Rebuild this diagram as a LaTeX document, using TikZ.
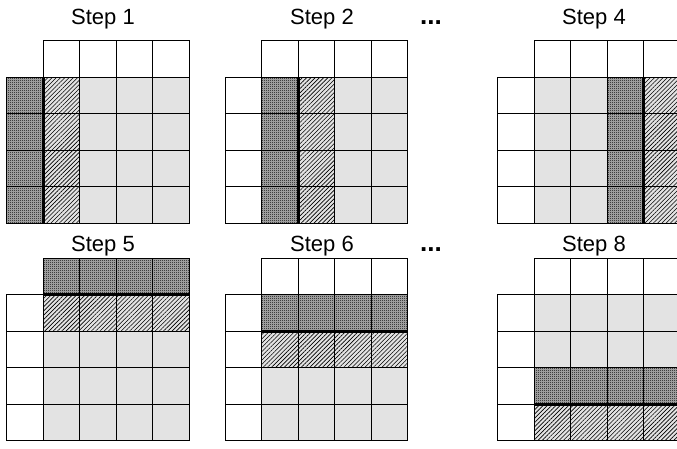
\documentclass[tikz,border=0pt]{standalone}
\usepackage{fontspec}
\setmainfont{Liberation Sans}
\usetikzlibrary{patterns,patterns.meta}
\definecolor{lgray}{HTML}{E3E3E3}
\definecolor{mgray}{HTML}{B4B4B4}
\pgfdeclarepatternformonly{finechecker}{\pgfpointorigin}{\pgfqpoint{2pt}{2pt}}{\pgfqpoint{2pt}{2pt}}{%
 \pgfpathrectangle{\pgfpointorigin}{\pgfqpoint{1pt}{1pt}}%
 \pgfpathrectangle{\pgfqpoint{1pt}{1pt}}{\pgfqpoint{1pt}{1pt}}%
 \pgfusepath{fill}}
\def\cs{36.5pt}
\tikzset{
  lightcell/.style={fill=lgray},
  darkcell/.style={preaction={fill=mgray}, pattern=finechecker, pattern color=black},
  hatchcell/.style={preaction={fill=lgray}, pattern={Lines[angle=45,distance=3pt,line width=0.6pt]}, pattern color=black},
  gridline/.style={draw=black, line width=0.9pt},
  splitline/.style={draw=black, line width=3pt},
  steptitle/.style={anchor=base, inner sep=0pt, font=\fontsize{22}{26}\selectfont},
  dotstext/.style={anchor=base, inner sep=0pt, font=\fontsize{26}{30}\selectfont\bfseries}
}
\newcommand\cellat[3]{\path[#3] ({#1*\cs},{-#2*\cs}) rectangle ++(\cs,-\cs);}
\newcommand\gridlines{%
  \foreach \i in {1,...,4}{\foreach \j in {0,...,4}{\draw[gridline] ({\i*\cs},{-\j*\cs}) rectangle ++(\cs,-\cs);}}%
  \foreach \j in {1,...,4}{\draw[gridline] (0,{-\j*\cs}) rectangle ++(\cs,-\cs);}}
\begin{document}
\begin{tikzpicture}
\useasboundingbox (0,0) rectangle (677pt,-448pt);
\clip (0,0) rectangle (677pt,-448pt);

% titles
\node[steptitle] (t1) at (103pt,-24pt) {Step 1};
\node[steptitle] (t2) at (322pt,-24pt) {Step 2};
\node[steptitle] (t4) at (594pt,-24pt) {Step 4};
\node[steptitle] (t5) at (103pt,-251.5pt) {Step 5};
\node[steptitle] (t6) at (322pt,-251.5pt) {Step 6};
\node[steptitle] (t8) at (594pt,-251.5pt) {Step 8};
\node[dotstext] (d1) at (431pt,-24pt) {...};
\node[dotstext] (d2) at (431pt,-251.5pt) {...};

% Step 1
\begin{scope}[shift={(6.7pt,-40.7pt)}]
  \foreach \j in {1,...,4}{\cellat{0}{\j}{darkcell}\cellat{1}{\j}{hatchcell}
    \foreach \i in {2,3,4}{\cellat{\i}{\j}{lightcell}}}
  \gridlines
  \draw[splitline] ({1*\cs},{-1*\cs}) -- ({1*\cs},{-5*\cs});
\end{scope}

% Step 2
\begin{scope}[shift={(225pt,-40.7pt)}]
  \foreach \j in {1,...,4}{\cellat{1}{\j}{darkcell}\cellat{2}{\j}{hatchcell}
    \foreach \i in {3,4}{\cellat{\i}{\j}{lightcell}}}
  \gridlines
  \draw[splitline] ({2*\cs},{-1*\cs}) -- ({2*\cs},{-5*\cs});
\end{scope}

% Step 4
\begin{scope}[shift={(497.7pt,-40.7pt)}]
  \foreach \j in {1,...,4}{\cellat{3}{\j}{darkcell}\cellat{4}{\j}{hatchcell}
    \foreach \i in {1,2}{\cellat{\i}{\j}{lightcell}}}
  \gridlines
  \draw[splitline] ({4*\cs},{-1*\cs}) -- ({4*\cs},{-5*\cs});
\end{scope}

% Step 5
\begin{scope}[shift={(6.7pt,-258.3pt)}]
  \foreach \i in {1,...,4}{\cellat{\i}{0}{darkcell}\cellat{\i}{1}{hatchcell}
    \foreach \j in {2,3,4}{\cellat{\i}{\j}{lightcell}}}
  \gridlines
  \draw[splitline] ({1*\cs},{-1*\cs}) -- ({5*\cs},{-1*\cs});
\end{scope}

% Step 6
\begin{scope}[shift={(225pt,-258.3pt)}]
  \foreach \i in {1,...,4}{\cellat{\i}{1}{darkcell}\cellat{\i}{2}{hatchcell}
    \foreach \j in {3,4}{\cellat{\i}{\j}{lightcell}}}
  \gridlines
  \draw[splitline] ({1*\cs},{-2*\cs}) -- ({5*\cs},{-2*\cs});
\end{scope}

% Step 8
\begin{scope}[shift={(497.7pt,-258.3pt)}]
  \foreach \i in {1,...,4}{\cellat{\i}{3}{darkcell}\cellat{\i}{4}{hatchcell}
    \foreach \j in {1,2}{\cellat{\i}{\j}{lightcell}}}
  \gridlines
  \draw[splitline] ({1*\cs},{-4*\cs}) -- ({5*\cs},{-4*\cs});
\end{scope}
\end{tikzpicture}
\end{document}
